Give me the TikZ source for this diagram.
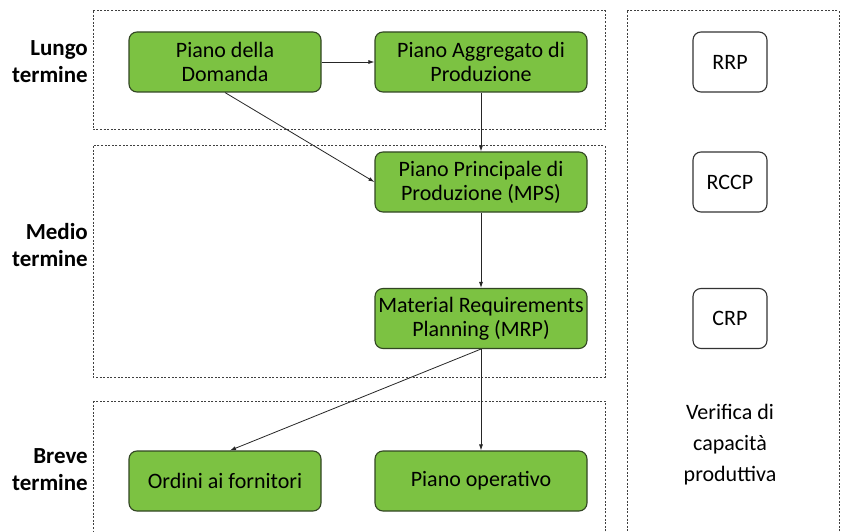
\documentclass[tikz,border=0pt]{standalone}
\usepackage{fontspec}
\setmainfont{Carlito}
\usetikzlibrary{arrows.meta}
\definecolor{gfill}{RGB}{124,194,66}
\definecolor{gline}{RGB}{50,70,35}
\begin{document}
\begin{tikzpicture}[x=1pt,y=-1pt,
  greenbox/.style={draw=gline,line width=1.1pt,fill=gfill,rounded corners=8pt,minimum width=212pt,minimum height=60pt,align=center,font=\fontsize{22}{24}\selectfont,inner sep=0pt},
  whitebox/.style={draw=black!80,line width=1.1pt,fill=white,rounded corners=8pt,minimum width=74pt,minimum height=60pt,align=center,font=\fontsize{22}{24}\selectfont,inner sep=0pt},
  frame/.style={draw=black!75,line width=1pt,dash pattern=on 2pt off 1.6pt},
  lbl/.style={align=right,anchor=east,font=\bfseries\fontsize{23}{27}\selectfont,inner sep=0pt},
  arr/.style={draw=black!85,line width=0.8pt,-{Latex[length=6pt,width=4pt]}}]
\useasboundingbox (0,0) rectangle (841,532);
\fill[white] (0,0) rectangle (841,532);
% frames
\draw[frame] (93,11) rectangle (605,130);
\draw[frame] (93,146) rectangle (605,377);
\draw[frame] (93,401) rectangle (605,545);
\draw[frame] (627,11) rectangle (839,545);
% labels
\node[lbl] (lt) at (88,62) {Lungo\\termine};
\node[lbl] (mt) at (88,245) {Medio\\termine};
\node[lbl] (bt) at (88,470) {Breve\\termine};
% green nodes
\node[greenbox,minimum width=192pt] (dom) at (225,62) {Piano della\\Domanda};
\node[greenbox] (agg) at (481,62) {Piano Aggregato di\\Produzione};
\node[greenbox] (mps) at (481,182) {Piano Principale di\\Produzione (MPS)};
\node[greenbox] (mrp) at (481,318.5) {Material Requirements\\Planning (MRP)};
\node[greenbox,minimum width=192pt] (ord) at (225,481) {Ordini ai fornitori};
\node[greenbox] (op) at (481,481) {Piano operativo};
% white nodes
\node[whitebox] (rrp) at (730,62) {RRP};
\node[whitebox] (rccp) at (730,182) {RCCP};
\node[whitebox] (crp) at (730,318.5) {CRP};
\node[align=center,font=\fontsize{22}{31}\selectfont] (ver) at (730,445) {Verifica di\\capacità\\produttiva};
% arrows
\draw[arr] (dom.east) -- (agg.west);
\draw[arr] (dom.south) -- (mps.west);
\draw[arr] (agg.south) -- (mps.north);
\draw[arr] (mps.south) -- (mrp.north);
\draw[arr] (mrp.south) -- (op.north);
\draw[arr] (mrp.south) -- ([xshift=5pt]ord.north);
\end{tikzpicture}
\end{document}
